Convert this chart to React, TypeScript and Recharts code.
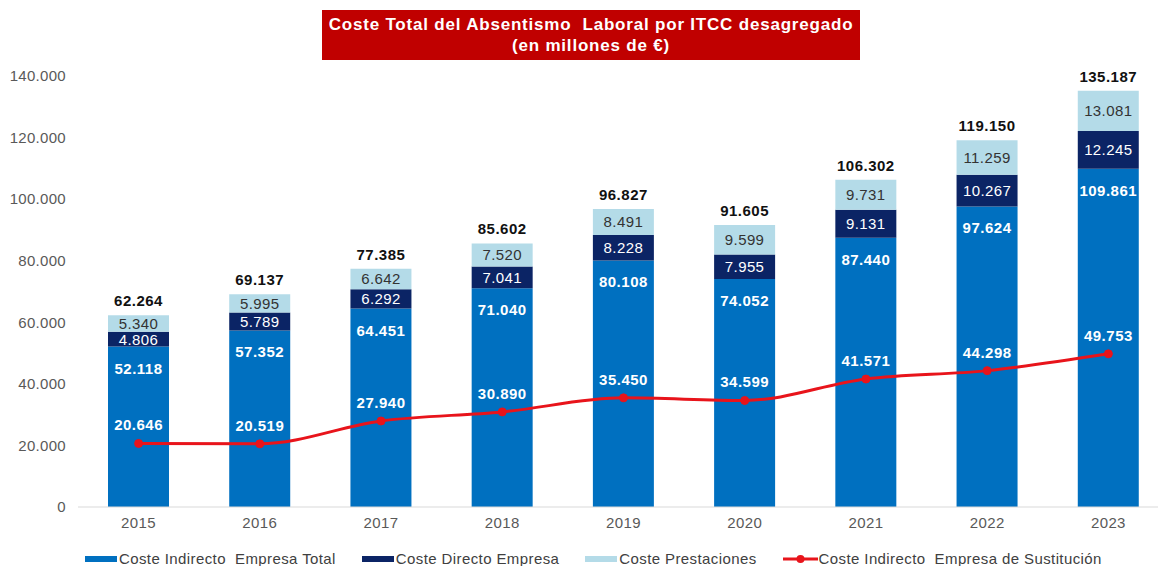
import { ComposedChart, Bar, Line, XAxis, YAxis, Legend, LabelList } from "recharts";

const years = ["2015", "2016", "2017", "2018", "2019", "2020", "2021", "2022", "2023"];
const indirectoTotal = [52118, 57352, 64451, 71040, 80108, 74052, 87440, 97624, 109861];
const directo = [4806, 5789, 6292, 7041, 8228, 7955, 9131, 10267, 12245];
const prestaciones = [5340, 5995, 6642, 7520, 8491, 9599, 9731, 11259, 13081];
const sustitucion = [20646, 20519, 27940, 30890, 35450, 34599, 41571, 44298, 49753];
const totales = [62264, 69137, 77385, 85602, 96827, 91605, 106302, 119150, 135187];
const yTicks = [0, 20000, 40000, 60000, 80000, 100000, 120000, 140000];

const data = years.map((year, i) => ({
  year,
  indirectoTotal: indirectoTotal[i],
  directo: directo[i],
  prestaciones: prestaciones[i],
  sustitucion: sustitucion[i],
}));

const C_BASE = "#0070c0";
const C_DIR = "#0b2465";
const C_PREST = "#b4dbe8";
const C_LINE = "#e8141b";
const FONT = "'Liberation Sans', Arial, sans-serif";

// thousands with a dot, also for 4 digit numbers
const fmt = (v: number) => String(Math.round(v)).replace(/\B(?=(\d{3})+(?!\d))/g, ".");

const baseLabel = (p: any) => (
  <text x={p.x + p.width / 2} y={p.y + 27} textAnchor="middle" fill="#fff" fontSize={15} fontWeight="bold" fontFamily={FONT} letterSpacing={0.5}>
    {fmt(p.value)}
  </text>
);

const midLabel = (color: string) => (p: any) => (
  <text x={p.x + p.width / 2} y={p.y + p.height / 2} dy="0.36em" textAnchor="middle" fill={color} fontSize={15} fontFamily={FONT} letterSpacing={0.4}>
    {fmt(p.value)}
  </text>
);

const totalLabel = (p: any) => (
  <text x={p.x + p.width / 2} y={p.y - 9} textAnchor="middle" fill="#111" fontSize={15} fontWeight="bold" fontFamily={FONT} letterSpacing={0.5}>
    {fmt(totales[p.index])}
  </text>
);

const lineLabel = (p: any) => (
  <text x={p.x} y={p.y - 13} textAnchor="middle" fill="#fff" fontSize={15} fontWeight="bold" fontFamily={FONT} letterSpacing={0.5}>
    {fmt(p.value)}
  </text>
);

const legendItems = [
  { label: "Coste Indirecto  Empresa Total", color: C_BASE, kind: "rect" },
  { label: "Coste Directo Empresa", color: C_DIR, kind: "rect" },
  { label: "Coste Prestaciones", color: C_PREST, kind: "rect" },
  { label: "Coste Indirecto  Empresa de Sustitución", color: C_LINE, kind: "line" },
];

const renderLegend = () => (
  <div style={{ display: "flex", paddingLeft: 85, paddingTop: 14, gap: 26, fontFamily: FONT, fontSize: 15, letterSpacing: 0.4, color: "#404040", lineHeight: "15px" }}>
    {legendItems.map((it) => (
      <div key={it.label} style={{ display: "flex", alignItems: "center", whiteSpace: "pre" }}>
        {it.kind === "rect" ? (
          <span style={{ display: "inline-block", width: 32, height: 6, background: it.color, marginRight: 2 }} />
        ) : (
          <svg width={35} height={10} style={{ marginRight: 1 }}>
            <line x1={0} y1={5} x2={35} y2={5} stroke={it.color} strokeWidth={3} />
            <circle cx={17.5} cy={5} r={4} fill={it.color} />
          </svg>
        )}
        {it.label}
      </div>
    ))}
  </div>
);

export default function App() {
  return (
    <div style={{ position: "absolute", left: 0, top: 0, width: 1158, height: 566, overflow: "hidden", background: "#fff" }}>
      <div
        style={{
          position: "absolute", left: 322, top: 10, width: 538, height: 50, background: "#c00000",
          color: "#fff", fontFamily: FONT, fontWeight: "bold", fontSize: 17, letterSpacing: 0.8, lineHeight: "21px",
          textAlign: "center", paddingTop: 4, boxSizing: "border-box",
        }}
      >
        <div style={{ whiteSpace: "pre" }}>Coste Total del Absentismo  Laboral por ITCC desagregado</div>
        <div>(en millones de €)</div>
      </div>
      <ComposedChart width={1169} height={566} data={data} margin={{ top: 76, right: 0, bottom: 0, left: 0 }}>
        <XAxis
          dataKey="year"
          height={30}
          tickLine={false}
          axisLine={{ stroke: "#d9d9d9" }}
          tick={{ fill: "#595959", fontSize: 15, fontFamily: FONT, letterSpacing: 0.4 }}
          tickMargin={4}
        />
        <YAxis
          width={78}
          domain={[0, 140000]}
          ticks={yTicks}
          tickFormatter={fmt}
          axisLine={false}
          tickLine={false}
          tickMargin={6}
          tick={{ fill: "#595959", fontSize: 15, fontFamily: FONT, letterSpacing: 0.3 }}
        />
        <Legend verticalAlign="bottom" height={29} content={renderLegend} />
        <Bar dataKey="indirectoTotal" stackId="a" fill={C_BASE} barSize={61} isAnimationActive={false}>
          <LabelList dataKey="indirectoTotal" content={baseLabel} />
        </Bar>
        <Bar dataKey="directo" stackId="a" fill={C_DIR} barSize={61} isAnimationActive={false}>
          <LabelList dataKey="directo" content={midLabel("#ffffff")} />
        </Bar>
        <Bar dataKey="prestaciones" stackId="a" fill={C_PREST} barSize={61} isAnimationActive={false}>
          <LabelList dataKey="prestaciones" content={midLabel("#333333")} />
          <LabelList dataKey="prestaciones" content={totalLabel} />
        </Bar>
        <Line
          dataKey="sustitucion"
          type="monotone"
          stroke={C_LINE}
          strokeWidth={3}
          dot={{ r: 4, fill: C_LINE, stroke: C_LINE, strokeWidth: 1 }}
          isAnimationActive={false}
        >
          <LabelList dataKey="sustitucion" content={lineLabel} />
        </Line>
      </ComposedChart>
    </div>
  );
}
